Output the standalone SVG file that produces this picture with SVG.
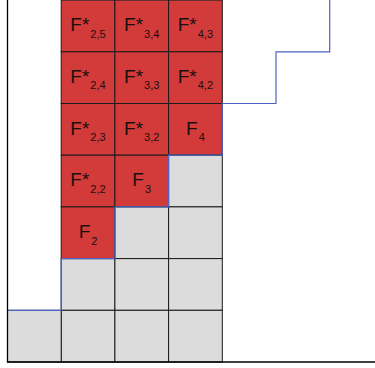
<svg xmlns="http://www.w3.org/2000/svg" width="375" height="368" viewBox="0 0 375 368">
<style>
.r{fill:#d33a3a;stroke:#1a1a1a;stroke-width:1}
.g{fill:#dcdcdc;stroke:#1a1a1a;stroke-width:1}
.t{font-family:"Liberation Sans",Arial,sans-serif;font-size:19px;fill:#1a0f0f;text-anchor:middle}
.s{font-size:11px}
.ax{stroke:#000;stroke-width:1.3;fill:none}
.bl{stroke:#4a63c2;stroke-width:1.2;fill:none}
</style>
<rect width="375" height="368" fill="#fff"/>
<g id="col1">
<g id="F25"><rect class="r" x="61.2" y="0.1" width="53.7" height="51.7"/><text class="t" x="88" y="31.2">F*<tspan class="s" dx="1" dy="6.5">2,5</tspan></text></g>
<g id="F24"><rect class="r" x="61.2" y="51.8" width="53.7" height="51.7"/><text class="t" x="88" y="82.9">F*<tspan class="s" dx="1" dy="6.5">2,4</tspan></text></g>
<g id="F23"><rect class="r" x="61.2" y="103.5" width="53.7" height="51.7"/><text class="t" x="88" y="134.6">F*<tspan class="s" dx="1" dy="6.5">2,3</tspan></text></g>
<g id="F22"><rect class="r" x="61.2" y="155.2" width="53.7" height="51.7"/><text class="t" x="88" y="186.3">F*<tspan class="s" dx="1" dy="6.5">2,2</tspan></text></g>
<g id="F2"><rect class="r" x="61.2" y="206.9" width="53.7" height="51.7"/><text class="t" x="88" y="238">F<tspan class="s" dx="1" dy="6.5">2</tspan></text></g>
<g id="c1r5"><rect class="g" x="61.2" y="258.6" width="53.7" height="51.7"/></g>
<g id="c1r6"><rect class="g" x="61.2" y="310.3" width="53.7" height="51.7"/></g>
</g>
<g id="col2">
<g id="F34"><rect class="r" x="114.9" y="0.1" width="53.7" height="51.7"/><text class="t" x="141.7" y="31.2">F*<tspan class="s" dx="1" dy="6.5">3,4</tspan></text></g>
<g id="F33"><rect class="r" x="114.9" y="51.8" width="53.7" height="51.7"/><text class="t" x="141.7" y="82.9">F*<tspan class="s" dx="1" dy="6.5">3,3</tspan></text></g>
<g id="F32"><rect class="r" x="114.9" y="103.5" width="53.7" height="51.7"/><text class="t" x="141.7" y="134.6">F*<tspan class="s" dx="1" dy="6.5">3,2</tspan></text></g>
<g id="F3"><rect class="r" x="114.9" y="155.2" width="53.7" height="51.7"/><text class="t" x="141.7" y="186.3">F<tspan class="s" dx="1" dy="6.5">3</tspan></text></g>
<g id="c2r4"><rect class="g" x="114.9" y="206.9" width="53.7" height="51.7"/></g>
<g id="c2r5"><rect class="g" x="114.9" y="258.6" width="53.7" height="51.7"/></g>
<g id="c2r6"><rect class="g" x="114.9" y="310.3" width="53.7" height="51.7"/></g>
</g>
<g id="col3">
<g id="F43"><rect class="r" x="168.6" y="0.1" width="53.7" height="51.7"/><text class="t" x="195.4" y="31.2">F*<tspan class="s" dx="1" dy="6.5">4,3</tspan></text></g>
<g id="F42"><rect class="r" x="168.6" y="51.8" width="53.7" height="51.7"/><text class="t" x="195.4" y="82.9">F*<tspan class="s" dx="1" dy="6.5">4,2</tspan></text></g>
<g id="F4"><rect class="r" x="168.6" y="103.5" width="53.7" height="51.7"/><text class="t" x="195.4" y="134.6">F<tspan class="s" dx="1" dy="6.5">4</tspan></text></g>
<g id="c3r3"><rect class="g" x="168.6" y="155.2" width="53.7" height="51.7"/></g>
<g id="c3r4"><rect class="g" x="168.6" y="206.9" width="53.7" height="51.7"/></g>
<g id="c3r5"><rect class="g" x="168.6" y="258.6" width="53.7" height="51.7"/></g>
<g id="c3r6"><rect class="g" x="168.6" y="310.3" width="53.7" height="51.7"/></g>
</g>
<g id="col0">
<g id="c0r6"><rect class="g" x="7.5" y="310.3" width="53.7" height="51.7"/></g>
</g>
<g id="connectors">
<polyline class="bl" points="7.5,310.3 61.2,310.3 61.2,258.6 114.9,258.6 114.9,206.9 168.6,206.9 168.6,155.2 222.3,155.2 222.3,103.5 276,103.5 276,51.8 329.7,51.8 329.7,0"/>
<polyline class="ax" points="7.5,0 7.5,362 375,362"/>
</g>
</svg>
